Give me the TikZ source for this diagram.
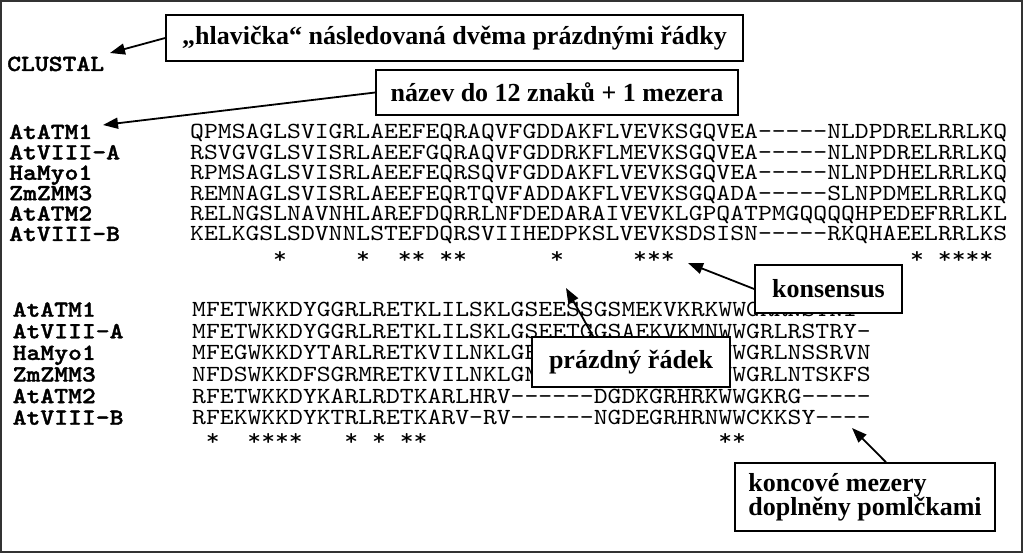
\documentclass[tikz,border=0pt]{standalone}
\usepackage{fontspec}
\setmainfont{Liberation Serif}
\newfontfamily\seqfont{lmmono10-regular.otf}[FakeStretch=1.143, Ligatures=TeXOff,
  BoldFont=lmmonolt10-bold.otf, BoldFeatures={FakeBold=1.5}]
\usetikzlibrary{arrows.meta, calc}

\begin{document}
\begin{tikzpicture}[
    x=1pt, y=-1pt,
    outer/.style={draw=black!80, line width=2pt},
    note/.style={draw, fill=white, line width=1.6pt, inner sep=0pt,
                 font=\bfseries\fontsize{26}{24}\selectfont},
    seqname/.style={anchor=base west, inner sep=0pt,
                    font=\seqfont\bfseries\fontsize{23.08}{24}\selectfont},
    seq/.style={anchor=base west, inner sep=0pt,
                font=\seqfont\fontsize{23.08}{24}\selectfont},
    cons/.style={seq, anchor=base},
    arr/.style={-{Triangle[length=15pt,width=11pt]}, line width=1.8pt}
]
\useasboundingbox (0,0) rectangle (1023,553);
\draw[outer] (1,1) rectangle (1022,552);

\node[seqname] (clustal) at (7,71) {CLUSTAL};

% first block
\foreach \nm/\sq [count=\i from 0] in {
    AtATM1/QPMSAGLSVIGRLAEEFEQRAQVFGDDAKFLVEVKSGQVEA-----NLDPDRELRRLKQ,
    AtVIII-A/RSVGVGLSVISRLAEEFGQRAQVFGDDRKFLMEVKSGQVEA-----NLNPDRELRRLKQ,
    HaMyo1/RPMSAGLSVISRLAEEFEQRSQVFGDDAKFLVEVKSGQVEA-----NLNPDHELRRLKQ,
    ZmZMM3/REMNAGLSVISRLAEEFEQRTQVFADDAKFLVEVKSGQADA-----SLNPDMELRRLKQ,
    AtATM2/RELNGSLNAVNHLAREFDQRRLNFDEDARAIVEVKLGPQATPMGQQQQHPEDEFRRLKL,
    AtVIII-B/KELKGSLSDVNNLSTEFDQRSVIIHEDPKSLVEVKSDSISN-----RKQHAEELRRLKS}{
  \node[seqname] (na\i) at (9,139+20.4*\i) {\nm};
  \node[seq]     (sa\i) at (190,139+20.4*\i) {\sq};
}
\foreach \c in {7,13,16,17,19,20,27,33,34,35,53,55,56,57,58}
  \node[cons] (ca\c) at (190+13.85*\c-6.925,264) {*};

% second block
\foreach \nm/\sq [count=\i from 0] in {
    AtATM1/MFETWKKDYGGRLRETKLILSKLGSEESSGSMEKVKRKWWGRRNSTNI,
    AtVIII-A/MFETWKKDYGGRLRETKLILSKLGSEETGGSAEKVKMNWWGRLRSTRY-,
    HaMyo1/MFEGWKKDYTARLRETKVILNKLGE~~~~~~~~~~~~~WWGRLNSSRVN,
    ZmZMM3/NFDSWKKDFSGRMRETKVILNKLGN~~~~~~~~~~~~~WWGRLNTSKFS,
    AtATM2/RFETWKKDYKARLRDTKARLHRV------DGDKGRHRKWWGKRG-----,
    AtVIII-B/RFEKWKKDYKTRLRETKARV-RV------NGDEGRHRNWWCKKSY----}{
  \node[seqname] (nb\i) at (12.5,316.7+21.6*\i) {\nm};
  \node[seq]     (sb\i) at (192,316.7+21.6*\i) {\sq};
}
\foreach \c in {2,5,6,7,8,12,14,16,17,39,40}
  \node[cons] (cb\c) at (192+13.85*\c-6.925,445) {*};

% notes
\node[note, minimum width=577pt, minimum height=46pt] (hdr) at (454.5,38)
  {„hlavička“ následovaná dvěma prázdnými řádky};
\node[note, minimum width=362pt, minimum height=45pt] (nazev) at (557,92.5)
  {název do 12 znaků + 1 mezera};
\node[note, minimum width=147pt, minimum height=48pt] (kons) at (828.5,289)
  {konsensus};
\node[note, minimum width=198pt, minimum height=50pt] (prazd) at (631,362)
  {prázdný řádek};
\node[note, minimum width=260pt, minimum height=68pt, align=left] (konc) at (865,497)
  {koncové mezery\\doplněny pomlčkami};

\coordinate (hdrtip)   at (110,53);
\coordinate (nazevtip) at (103,125);
\coordinate (konstip)  at (688,263);
\coordinate (prazdtip) at (566,288);
\coordinate (konctip)  at (852,428);

\draw[arr] (hdr.west) -- (hdrtip);
\draw[arr] (nazev.west) -- (nazevtip);
\draw[arr] (kons.west) -- (konstip);
\draw[arr] ($(prazd.north west)!0.31!(prazd.north east)$) -- (prazdtip);
\draw[arr] ($(konc.north west)!0.58!(konc.north east)$) -- (konctip);
\end{tikzpicture}
\end{document}
